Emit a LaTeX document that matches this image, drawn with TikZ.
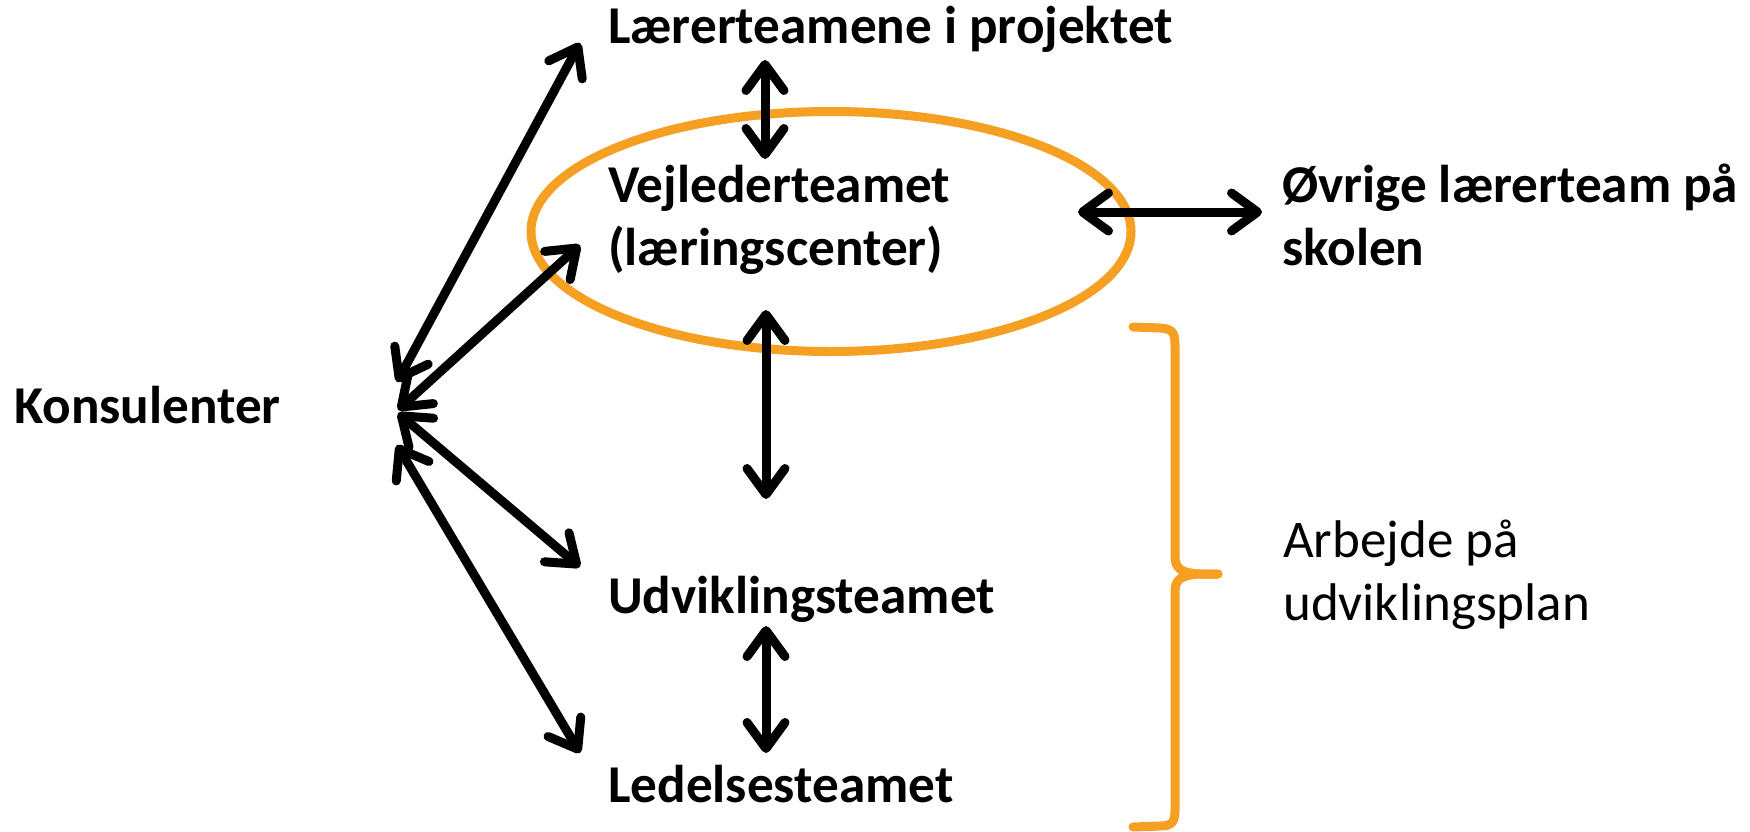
\documentclass[tikz,border=0pt]{standalone}
\usepackage{fontspec}
\setmainfont{Carlito}
\usetikzlibrary{arrows.meta,shapes.geometric}
\definecolor{ringorange}{RGB}{245,160,35}
\begin{document}
\begin{tikzpicture}[x=1pt,y=-1pt,
  lbl/.style={inner sep=0pt, anchor=base west, font=\fontsize{53.2}{63}\selectfont\bfseries, align=left},
  lblreg/.style={inner sep=0pt, anchor=base west, font=\fontsize{53}{63}\selectfont, align=left},
  biarrow/.style={line width=9pt, arrows={Straight Barb[round,length=26pt,width=38pt]-Straight Barb[round,length=26pt,width=38pt]}},
  ringstyle/.style={draw=ringorange, line width=9pt, ellipse, inner sep=0pt, minimum width=600pt, minimum height=240pt},
  bracestyle/.style={draw=ringorange, line width=9pt, line cap=round, line join=round},
]
\useasboundingbox (0,0) rectangle (1750,832);
% text nodes (base anchor = baseline of the last line)
\node[lbl] (laerer) at (608,44) {Lærerteamene i projektet};
\node[lbl] (vejl) at (608,265) {Vejlederteamet\\(læringscenter)};
\node[lbl] (ovrige) at (1282,265) {Øvrige lærerteam på\\skolen};
\node[lbl] (kons) at (14,423) {Konsulenter};
\node[lbl] (udv) at (608,613) {Udviklingsteamet};
\node[lbl] (led) at (608,802) {Ledelsesteamet};
\node[lblreg] (arb) at (1283,620) {Arbejde på\\udviklingsplan};
% ellipse
\node[ringstyle] (ring) at (831,231.5) {};
% brace
\draw[bracestyle] (1133,327) -- (1160,328) .. controls (1172,329) and (1175,332) .. (1175,345)
  -- (1175,556) .. controls (1175,568) and (1180,573) .. (1200,574) -- (1218,574);
\draw[bracestyle] (1218,574) -- (1200,574) .. controls (1180,575) and (1175,580) .. (1175,592)
  -- (1175,810) .. controls (1175,822) and (1172,826) .. (1160,826) -- (1133,827);
% arrow end points
\coordinate (k1) at (397,382); \coordinate (t1) at (580,43);
\coordinate (k2) at (398,410); \coordinate (t2) at (580,245);
\coordinate (k3) at (398,413); \coordinate (t3) at (580,567);
\coordinate (k4) at (397,445); \coordinate (t4) at (580,753);
\coordinate (l1) at (765,60);  \coordinate (v1) at (765,159);
\coordinate (v2) at (766,310); \coordinate (u1) at (766,499);
\coordinate (u2) at (766,626); \coordinate (e1) at (766,753);
\coordinate (h1) at (1078,212); \coordinate (h2) at (1262,212);
% connectors
\draw[biarrow] (k1) -- (t1);
\draw[biarrow] (k2) -- (t2);
\draw[biarrow] (k3) -- (t3);
\draw[biarrow] (k4) -- (t4);
\draw[biarrow] (l1) -- (v1);
\draw[biarrow] (v2) -- (u1);
\draw[biarrow] (u2) -- (e1);
\draw[biarrow] (h1) -- (h2);
\end{tikzpicture}
\end{document}
